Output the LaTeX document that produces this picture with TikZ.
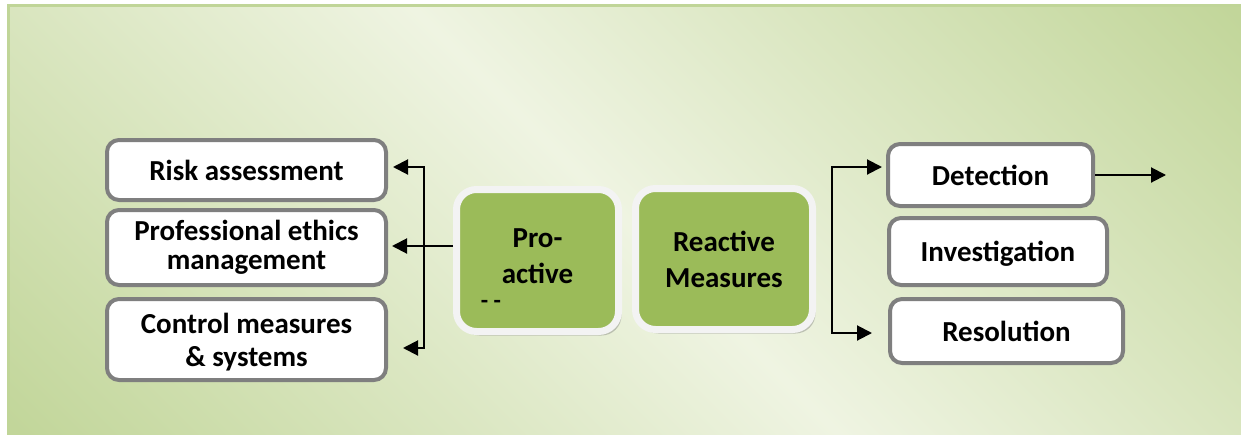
\documentclass[tikz,border=0pt]{standalone}
\usepackage{fontspec}
\setmainfont{Carlito}
\usetikzlibrary{arrows.meta,shadows,calc}
\definecolor{bggreen}{RGB}{194,214,154}
\definecolor{bglight}{RGB}{239,244,226}
\definecolor{bgedge}{RGB}{192,213,152}
\definecolor{boxgreen}{RGB}{155,187,89}
\definecolor{halo}{RGB}{243,243,243}
\definecolor{boxgray}{RGB}{127,127,127}
\pgfdeclarehorizontalshading{bgshade}{100bp}{color(0bp)=(bggreen); color(15bp)=(bggreen); color(50bp)=(bglight); color(85bp)=(bggreen); color(100bp)=(bggreen)}
\begin{document}
\begin{tikzpicture}[x=1pt,y=-1pt,
  whitebox/.style={draw=boxgray, line width=4pt, fill=white, rounded corners=12pt,
    inner sep=0pt, align=center, font=\fontsize{29}{29}\selectfont\bfseries},
  greenbox/.style={draw=halo, line width=7pt, fill=boxgreen, rounded corners=20pt,
    inner sep=0pt, align=center, font=\fontsize{29}{36}\selectfont\bfseries,
    drop shadow={shadow xshift=3pt, shadow yshift=-4pt, opacity=0.35, fill=black!60}},
  conn/.style={line width=2pt, draw=black},
  tipa/.tip={Triangle[length=15pt,width=15pt]}
]
\useasboundingbox (0,0) rectangle (1241,434);
% background
\shade[shading=bgshade, shading angle=45] (8,5) rectangle (1241,434);
\draw[bgedge, line width=3pt] (1260,5) -- (8,5) -- (8,450);

% left boxes
\node[whitebox, minimum width=279pt, minimum height=60pt] (risk) at (246.5,170) {Risk assessment};
\node[whitebox, minimum width=279pt, minimum height=75pt] (prof) at (246.5,247.5) {Professional ethics\\management};
\node[whitebox, minimum width=279pt, minimum height=81pt, font=\fontsize{29}{33}\selectfont\bfseries, text depth=-3pt] (ctrl) at (246.5,339.5) {Control measures\\\& systems};

% central boxes
\node[greenbox, minimum width=162pt, minimum height=142pt, text depth=8pt] (pro) at (537.5,260.5) {Pro-\\active};
\node[font=\fontsize{24}{24}\selectfont\bfseries, inner sep=0pt] (dashes) at (491,304) {- -};
\node[greenbox, minimum width=177pt, minimum height=141pt, text depth=-2pt] (react) at (724,259) {Reactive\\Measures};

% right boxes
\node[whitebox, minimum width=205pt, minimum height=62pt] (det) at (990.5,175) {Detection};
\node[whitebox, minimum width=218pt, minimum height=67pt, text depth=-2pt] (inv) at (998,251.5) {Investigation};
\node[whitebox, minimum width=233pt, minimum height=64pt] (res) at (1006.5,331) {Resolution};

% connector coordinates
\coordinate (lt) at (424,167);
\coordinate (lb) at (424,348);
\coordinate (rt) at (832,167);
\coordinate (rb) at (832,333);
\coordinate (dout) at (1166,174);
\coordinate (pm) at ($(pro.west)+(0,-14.5)$);

% connectors
\draw[conn, tipa-tipa, shorten <=15pt, shorten >=5pt] (lb -| ctrl.east) -- (lb) -- (lt) -- (lt -| risk.east);
\draw[conn, -tipa, shorten >=4pt] (pm) -- (pm -| prof.east);
\draw[conn, tipa-tipa, shorten <=16pt, shorten >=4pt] (rb -| res.west) -- (rb) -- (rt) -- (rt -| det.west);
\draw[conn, -tipa] (det.east) -- (det.east -| dout);
\end{tikzpicture}
\end{document}
